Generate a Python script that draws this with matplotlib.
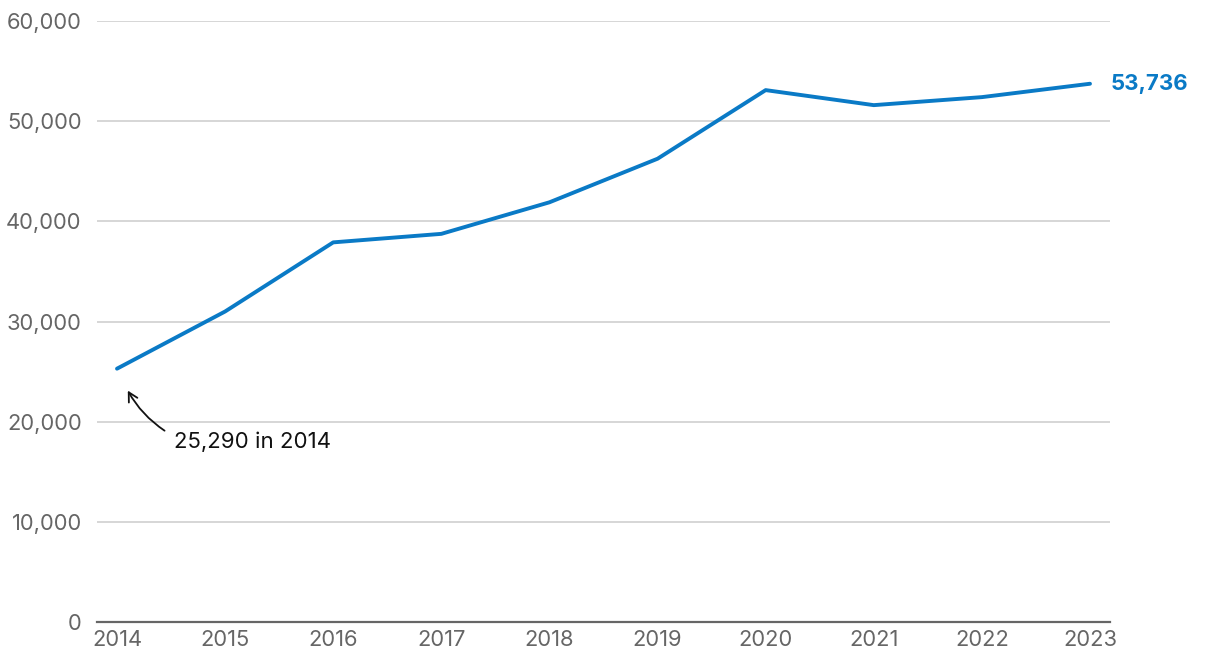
import matplotlib
matplotlib.use("Agg")
import matplotlib.pyplot as plt
from matplotlib.ticker import FuncFormatter

years = [2014, 2015, 2016, 2017, 2018, 2019, 2020, 2021, 2022, 2023]
values = [25290, 31000, 37900, 38750, 41900, 46250, 53100, 51600, 52400, 53736]
y_ticks = [0, 10000, 20000, 30000, 40000, 50000, 60000]

blue = "#0a7ac6"
grey_text = "#666666"

plt.rcParams["font.family"] = ["Inter", "DejaVu Sans"]

fig = plt.figure(figsize=(12.2, 6.68), dpi=100)
ax = fig.add_axes([97 / 1220, 46 / 668, (1110 - 97) / 1220, (622 - 21) / 668])

ax.plot(years, values, color=blue, linewidth=2.8, solid_capstyle="round", zorder=3)

ax.set_xlim(2013.815, 2023.185)
ax.set_ylim(0, 60000)
ax.set_xticks(years)
ax.set_yticks(y_ticks)
ax.yaxis.set_major_formatter(FuncFormatter(lambda v, p: f"{int(v):,}"))
ax.tick_params(axis="both", length=0, labelsize=15.8, labelcolor=grey_text)
ax.tick_params(axis="y", pad=11)
ax.tick_params(axis="x", pad=6)

ax.grid(axis="y", color="#d0d0d0", linewidth=1.2)
ax.set_axisbelow(True)
for s in ["top", "right", "left"]:
    ax.spines[s].set_visible(False)
ax.spines["bottom"].set_color("#666666")
ax.spines["bottom"].set_linewidth(1.6)

# end label
ax.annotate(f"{values[-1]:,}", xy=(years[-1], values[-1]), xytext=(15, 0),
            textcoords="offset points", color=blue, fontsize=16, fontweight="bold",
            va="center", ha="left", annotation_clip=False)

# start note
ax.text(2014.53, 17950, f"{values[0]:,} in {years[0]}", fontsize=16, color="#111111",
        va="center", ha="left")
ax.annotate("", xy=(2014.10, 23100), xytext=(2014.44, 19100),
            arrowprops=dict(arrowstyle="->,head_length=0.65,head_width=0.35", color="#111111",
                            lw=1.3, connectionstyle="arc3,rad=-0.12", shrinkA=0, shrinkB=0))

fig.savefig("out.png", dpi=100)
